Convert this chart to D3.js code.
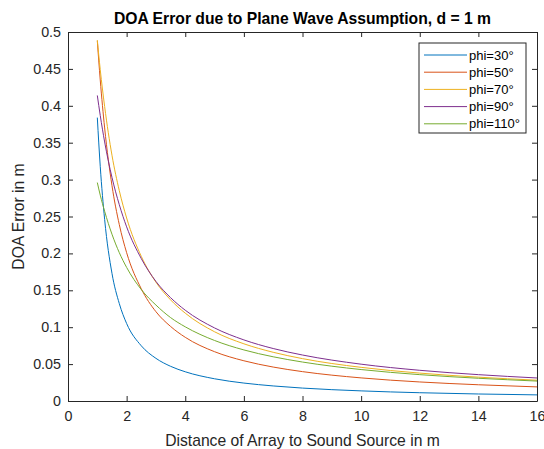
<!DOCTYPE html>
<html>
<head>
<meta charset="utf-8">
<script src="https://cdn.jsdelivr.net/npm/d3@7"></script>
<style>
  body { margin: 0; background: #fff; }
  svg { font-family: "Liberation Sans", Arial, Helvetica, sans-serif; }
</style>
</head>
<body>
<div id="chart"></div>
<script>
// distance of array to source (m)
const distance = [1, 1.1, 1.25, 1.5, 1.75, 2, 2.5, 3, 3.5, 4, 5, 6, 7, 8, 10, 12, 14, 16]

// DOA error (m) per angle
const phi30 = [0.384, 0.318, 0.246, 0.173, 0.132, 0.105, 0.0748, 0.0578, 0.0470, 0.0396, 0.0301, 0.0243, 0.0204, 0.0175, 0.0137, 0.0112, 0.0095, 0.0083]
const phi50 = [0.488, 0.435, 0.370, 0.292, 0.239, 0.201, 0.152, 0.121, 0.101, 0.0863, 0.0668, 0.0545, 0.0460, 0.0398, 0.0313, 0.0258, 0.0220, 0.0191]
const phi70 = [0.489, 0.449, 0.399, 0.333, 0.285, 0.248, 0.196, 0.161, 0.137, 0.119, 0.0938, 0.0775, 0.0660, 0.0574, 0.0456, 0.0378, 0.0323, 0.0282]
const phi90 = [0.414, 0.387, 0.351, 0.303, 0.266, 0.236, 0.193, 0.162, 0.140, 0.123, 0.0990, 0.0828, 0.0711, 0.0623, 0.0499, 0.0416, 0.0357, 0.0312]
const phi110 = [0.296, 0.279, 0.257, 0.226, 0.201, 0.181, 0.151, 0.130, 0.113, 0.1005, 0.0820, 0.0692, 0.0599, 0.0528, 0.0426, 0.0357, 0.0308, 0.0270]

const seriesNames = ['phi=30°', 'phi=50°', 'phi=70°', 'phi=90°', 'phi=110°']
const seriesValues = [phi30, phi50, phi70, phi90, phi110]
const colors = ['#0072BD', '#D95319', '#EDB120', '#7E2F8E', '#77AC30']

const xTicks = [0, 2, 4, 6, 8, 10, 12, 14, 16]
const yTicks = [0, 0.05, 0.1, 0.15, 0.2, 0.25, 0.3, 0.35, 0.4, 0.45, 0.5]

const W = 544, H = 449
const margin = { top: 32, left: 68, right: 7, bottom: 48 }
const width = W - margin.left - margin.right
const height = H - margin.top - margin.bottom
const axisColor = '#262626'

const svg = d3.select('#chart')
  .append('svg')
  .attr('width', W)
  .attr('height', H)

const g = svg.append('g')
  .attr('transform', 'translate(' + margin.left + ',' + margin.top + ')')

const x = d3.scaleLinear().domain([0, 16]).range([0, width])
const y = d3.scaleLinear().domain([0, 0.5]).range([height, 0])

// title
svg.append('text')
  .attr('x', margin.left + width / 2)
  .attr('y', 24)
  .attr('text-anchor', 'middle')
  .attr('font-size', 15.7)
  .attr('font-weight', 'bold')
  .attr('fill', '#000')
  .text('DOA Error due to Plane Wave Assumption, d = 1 m')

// axes, matlab style: ticks inside, box on
const fmt = d => String(d)
const tickLen = 5

const xAxisBottom = g.append('g')
  .attr('transform', 'translate(0,' + height + ')')
  .call(d3.axisBottom(x).tickValues(xTicks).tickFormat(fmt).tickSizeInner(-tickLen).tickSizeOuter(0).tickPadding(10))
const yAxisLeft = g.append('g')
  .call(d3.axisLeft(y).tickValues(yTicks).tickFormat(fmt).tickSizeInner(-tickLen).tickSizeOuter(0).tickPadding(7))
const xAxisTop = g.append('g')
  .call(d3.axisTop(x).tickValues(xTicks).tickFormat('').tickSizeInner(-tickLen).tickSizeOuter(0))
const yAxisRight = g.append('g')
  .attr('transform', 'translate(' + width + ',0)')
  .call(d3.axisRight(y).tickValues(yTicks).tickFormat('').tickSizeInner(-tickLen).tickSizeOuter(0))

;[xAxisBottom, yAxisLeft, xAxisTop, yAxisRight].forEach(a => {
  a.selectAll('path, line').attr('stroke', axisColor).attr('stroke-width', 1)
  a.selectAll('text').attr('fill', axisColor).attr('font-size', 14.3)
  a.attr('font-family', null)
})

// curves
const line = d3.line()
  .x((d, i) => x(distance[i]))
  .y(d => y(d))
  .curve(d3.curveMonotoneX)

g.append('g')
  .selectAll('path')
  .data(seriesValues)
  .join('path')
  .attr('d', line)
  .attr('fill', 'none')
  .attr('stroke', (d, i) => colors[i])
  .attr('stroke-width', 1)

// axis labels
svg.append('text')
  .attr('x', margin.left + width / 2)
  .attr('y', 446)
  .attr('text-anchor', 'middle')
  .attr('font-size', 15.7)
  .attr('fill', axisColor)
  .text('Distance of Array to Sound Source in m')

svg.append('text')
  .attr('transform', 'translate(24,' + (margin.top + height / 2) + ') rotate(-90)')
  .attr('text-anchor', 'middle')
  .attr('font-size', 15.7)
  .attr('fill', axisColor)
  .text('DOA Error in m')

// legend
const legend = svg.append('g')
  .attr('transform', 'translate(419,43)')

legend.append('rect')
  .attr('width', 107)
  .attr('height', 90)
  .attr('fill', '#fff')
  .attr('stroke', axisColor)
  .attr('stroke-width', 1)

const item = legend.selectAll('g.item')
  .data(seriesNames)
  .join('g')
  .attr('class', 'item')
  .attr('transform', (d, i) => 'translate(0,' + (12 + i * 17.2) + ')')

item.append('line')
  .attr('x1', 5)
  .attr('x2', 48)
  .attr('stroke', (d, i) => colors[i])
  .attr('stroke-width', 1)

item.append('text')
  .attr('x', 50)
  .attr('dy', '0.35em')
  .attr('font-size', 13)
  .attr('fill', '#000')
  .text(d => d)
</script>
</body>
</html>
